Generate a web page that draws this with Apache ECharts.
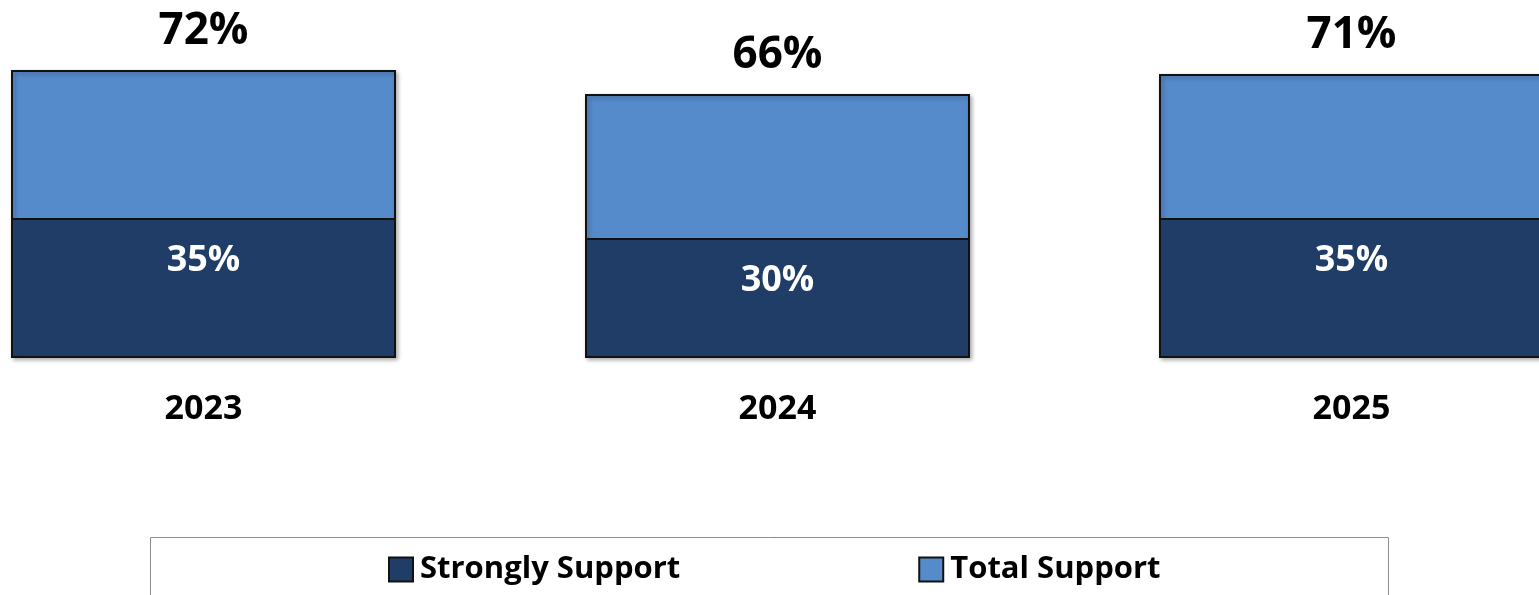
<!DOCTYPE html>
<html>
<head>
<meta charset="utf-8">
<script src="https://cdn.jsdelivr.net/npm/echarts@6/dist/echarts.min.js"></script>
<style>
html,body{margin:0;padding:0;background:#fff;}
#chart{width:1539px;height:595px;}
</style>
</head>
<body>
<div id="chart"></div>
<script>
const categories = ['2023', '2024', '2025'];
const totalSupport = [72, 66, 71];
const stronglySupport = [35, 30, 35];
const seriesNames = ['Strongly Support', 'Total Support'];

const FONT = '"Open Sans", "Noto Sans", sans-serif';
const chart = echarts.init(document.getElementById('chart'));
chart.setOption({
  animation: false,
  backgroundColor: '#ffffff',
  grid: { left: -83.5, width: 1722, top: -2, height: 360, containLabel: false, outerBoundsMode: 'none' },
  xAxis: {
    type: 'category',
    data: categories,
    axisLine: { show: false },
    axisTick: { show: false },
    axisLabel: { fontFamily: FONT, fontWeight: 'bold', fontSize: 34, color: '#000', margin: 34 }
  },
  yAxis: { type: 'value', min: 0, max: 90, show: false, splitLine: { show: false } },
  graphic: [{
    type: 'rect', left: 150, top: 537, z: -1,
    shape: { width: 1238, height: 100 },
    style: { fill: '#fff', stroke: '#8c8c8c', lineWidth: 1 }
  }],
  legend: {
    data: seriesNames,
    left: 383,
    top: 549,
    orient: 'horizontal',
    padding: 5,
    itemGap: 238,
    itemWidth: 24,
    itemHeight: 24,
    textStyle: { fontFamily: FONT, fontWeight: 'bold', fontSize: 31, color: '#000', padding: [0, 0, 0, 2] },
    icon: 'rect'
  },
  series: [
    {
      name: 'Total Support',
      type: 'bar',
      data: totalSupport,
      barWidth: 385,
      barGap: '-100%',
      z: 2,
      itemStyle: {
        color: '#568BCB',
        borderColor: '#111',
        borderWidth: 2,
        shadowBlur: 4, shadowOffsetX: 2, shadowOffsetY: 2, shadowColor: 'rgba(0,0,0,0.3)'
      },
      label: {
        show: true, position: 'top', distance: 17,
        formatter: '{c}%',
        fontFamily: FONT, fontWeight: 'bold', fontSize: 44, color: '#000'
      }
    },
    {
      name: 'Strongly Support',
      type: 'bar',
      data: stronglySupport,
      barWidth: 385,
      barGap: '-100%',
      z: 3,
      itemStyle: {
        color: '#1F3D66',
        borderColor: '#111',
        borderWidth: 2
      },
      label: {
        show: true, position: 'insideTop', distance: 25,
        formatter: '{c}%',
        fontFamily: FONT, fontWeight: 'bold', fontSize: 36, color: '#fff'
      }
    }
  ]
});
</script>
</body>
</html>
